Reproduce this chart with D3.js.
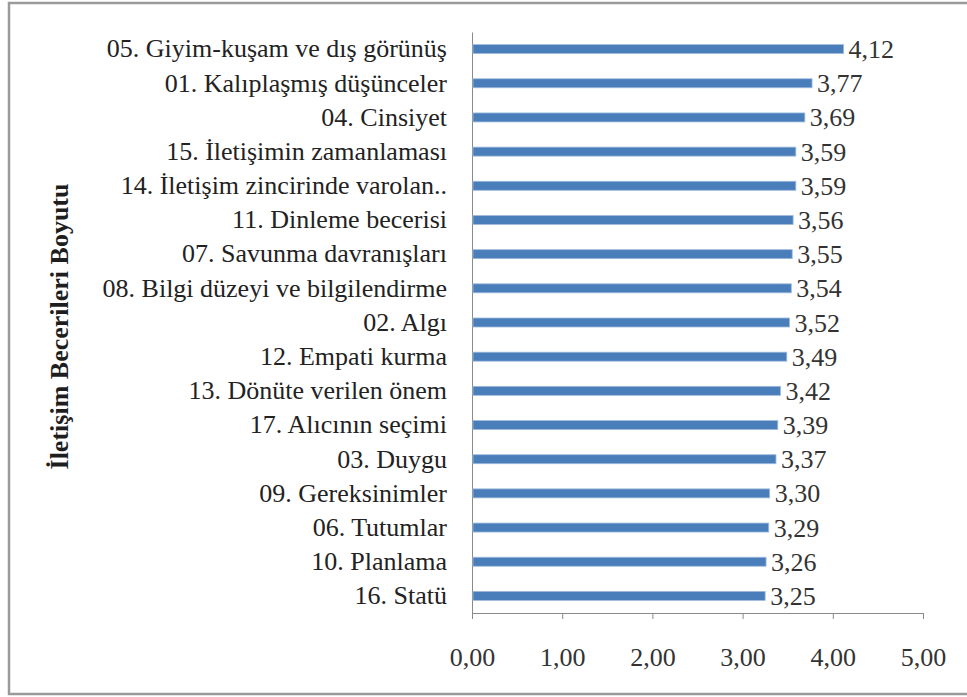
<!DOCTYPE html>
<html>
<head>
<meta charset="utf-8">
<script src="https://cdn.jsdelivr.net/npm/d3@7"></script>
<style>
  html, body { margin: 0; padding: 0; background: #fff; }
  svg { display: block; }
</style>
</head>
<body>
<svg id="chart" width="967" height="697"></svg>
<script>
// Communication skill dimensions, mean scores (top to bottom)
const categories = [
  "05. Giyim-kuşam ve dış görünüş",
  "01. Kalıplaşmış düşünceler",
  "04. Cinsiyet",
  "15. İletişimin zamanlaması",
  "14. İletişim zincirinde varolan..",
  "11. Dinleme becerisi",
  "07. Savunma davranışları",
  "08. Bilgi düzeyi ve bilgilendirme",
  "02. Algı",
  "12. Empati kurma",
  "13. Dönüte verilen önem",
  "17. Alıcının seçimi",
  "03. Duygu",
  "09. Gereksinimler",
  "06. Tutumlar",
  "10. Planlama",
  "16. Statü"
];
const values = [4.12, 3.77, 3.69, 3.59, 3.59, 3.56, 3.55, 3.54, 3.52, 3.49, 3.42, 3.39, 3.37, 3.30, 3.29, 3.26, 3.25];
const xTicks = [0, 1, 2, 3, 4, 5];
const axisTitle = "İletişim Becerileri Boyutu";

const serif = "'Times New Roman', Tinos, 'Liberation Serif', serif";
const fontSize = "26px";
const trLocale = d3.formatLocale({ decimal: ",", thousands: ".", grouping: [3], currency: ["", " ₺"] });
const fmt = trLocale.format(".2f");

const svg = d3.select("#chart");

// outer frame
svg.append("rect")
  .attr("x", 9).attr("y", 3)
  .attr("width", 980).attr("height", 691)
  .attr("fill", "#fff")
  .attr("stroke", "#9a9a9a")
  .attr("stroke-width", 2.5);

const plot = { left: 472, right: 923, top: 32, bottom: 613 };

const x = d3.scaleLinear().domain([0, 5]).range([plot.left, plot.right]);
const y = d3.scaleBand().domain(categories).range([plot.top, plot.bottom]).padding(0);

const axisColor = "#8a8a8a";

function serifText(sel, color) {
  sel.attr("font-family", serif)
    .attr("font-size", fontSize)
    .attr("fill", color)
    .style("font-family", serif)
    .style("font-size", fontSize);
}

// x axis
const xAxis = svg.append("g")
  .attr("transform", `translate(0,${plot.bottom})`)
  .call(d3.axisBottom(x).tickValues(xTicks).tickFormat(fmt).tickSizeInner(6).tickSizeOuter(0).tickPadding(29));
xAxis.attr("font-family", serif).attr("font-size", fontSize);
xAxis.select(".domain").attr("stroke", axisColor);
xAxis.selectAll(".tick line").attr("stroke", axisColor);
xAxis.selectAll(".tick text").call(serifText, "#333");

// y axis
const yAxis = svg.append("g")
  .attr("transform", `translate(${plot.left},0)`)
  .call(d3.axisLeft(y).tickSize(0).tickPadding(25));
yAxis.attr("font-family", serif).attr("font-size", fontSize);
yAxis.select(".domain").attr("stroke", axisColor);
yAxis.selectAll(".tick text").call(serifText, "#222");

// bars
const barH = 9;
svg.append("g").selectAll("rect")
  .data(values)
  .join("rect")
  .attr("x", x(0) + 1)
  .attr("y", (d, i) => y(categories[i]) + y.bandwidth() / 2 - barH / 2)
  .attr("width", d => x(d) - x(0) - 1)
  .attr("height", barH)
  .attr("fill", "#4a7ebb")
  .attr("stroke", "#9fbbdc")
  .attr("stroke-width", 0.8);

// value labels
svg.append("g").selectAll("text")
  .data(values)
  .join("text")
  .attr("x", d => x(d) + 5)
  .attr("y", (d, i) => y(categories[i]) + y.bandwidth() / 2 + 9)
  .call(serifText, "#333")
  .text(d => fmt(d));

// y axis title
svg.append("text")
  .attr("transform", `translate(68,${(plot.top + plot.bottom) / 2 + 4}) rotate(-90)`)
  .attr("text-anchor", "middle")
  .attr("font-family", serif)
  .attr("font-size", fontSize)
  .attr("font-weight", "bold")
  .attr("fill", "#1e1e1e")
  .text(axisTitle);
</script>
</body>
</html>
